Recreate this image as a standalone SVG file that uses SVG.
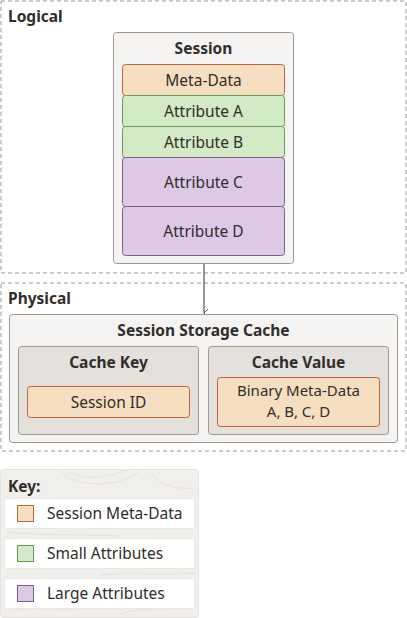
<svg xmlns="http://www.w3.org/2000/svg" width="407" height="618" viewBox="0 0 407 618">
<defs>
<style>
text{font-family:"Noto Sans","Open Sans",sans-serif;fill:#312d2a;font-size:15.5px;text-anchor:middle}
.b{font-weight:bold}
.l{text-anchor:start}
.zone{fill:none;stroke:#9e9892;stroke-dasharray:4 3;stroke-width:1}
.cont{fill:#f5f4f2;stroke:#9e9892;stroke-width:1}
.inner{fill:#e4e1dd;stroke:#9e9892;stroke-width:1}
.meta{fill:#f6dfc0;stroke:#c0623a;stroke-width:1}
.small{fill:#d2eac6;stroke:#6a9a5a;stroke-width:1}
.large{fill:#ddc9e6;stroke:#7a5f8a;stroke-width:1}
.keyrow{fill:#ffffff;stroke:#ebe8e5;stroke-width:1}
.tex{fill:none;stroke:#e6e2dd;stroke-width:1}
</style>
<marker id="arr" markerWidth="10" markerHeight="10" refX="5" refY="7" orient="auto" markerUnits="userSpaceOnUse">
<path d="M1,3 L5,7 L9,3" fill="none" stroke="#555" stroke-width="1"/>
</marker>
</defs>
<g id="logical">
<rect class="zone" x="1" y="1" width="405" height="272"/>
<text class="b l" x="8" y="22">Logical</text>
</g>
<g id="physical">
<rect class="zone" x="1" y="283" width="405" height="168"/>
<text class="b l" x="8" y="304">Physical</text>
</g>
<g id="session">
<rect class="cont" x="113.5" y="32.5" width="180" height="231" rx="3"/>
<text class="b" x="203.5" y="54">Session</text>
</g>
<g id="metadata"><rect class="meta" x="122.5" y="64.5" width="162" height="31" rx="3"/><text x="203.5" y="85.5">Meta-Data</text></g>
<g id="attrA"><rect class="small" x="122.5" y="95.5" width="162" height="31" rx="3"/><text x="203.5" y="116.5">Attribute A</text></g>
<g id="attrB"><rect class="small" x="122.5" y="126.5" width="162" height="31" rx="3"/><text x="203.5" y="147.5">Attribute B</text></g>
<g id="attrC"><rect class="large" x="122.5" y="157.5" width="162" height="49" rx="3"/><text x="203.5" y="187.5">Attribute C</text></g>
<g id="attrD"><rect class="large" x="122.5" y="206.5" width="162" height="49" rx="3"/><text x="203.5" y="236.5">Attribute D</text></g>
<g id="connectors">
<line x1="204" y1="264" x2="204" y2="313" stroke="#555" stroke-width="1.2" marker-end="url(#arr)"/>
</g>
<g id="storage">
<rect class="cont" x="9.5" y="314.5" width="388" height="128" rx="3"/>
<text class="b" x="203.5" y="336">Session Storage Cache</text>
</g>
<g id="cachekey">
<rect class="inner" x="18.5" y="346.5" width="180" height="88" rx="3"/>
<text class="b" x="108.5" y="368">Cache Key</text>
</g>
<g id="sessionid"><rect class="meta" x="27.5" y="386.5" width="162" height="31" rx="3"/><text x="108.5" y="407.5">Session ID</text></g>
<g id="cachevalue">
<rect class="inner" x="208.5" y="346.5" width="180" height="88" rx="3"/>
<text class="b" x="298.5" y="368">Cache Value</text>
</g>
<g id="binary"><rect class="meta" x="217.5" y="377.5" width="162" height="49" rx="3"/><text x="298.5" y="396" style="font-size:15px">Binary Meta-Data</text><text x="298.5" y="417" style="font-size:15px">A, B, C, D</text></g>
<g id="key">
<rect x="0.5" y="469.5" width="198" height="148" rx="3" fill="#f1efec" stroke="#e6e3df"/>
<path class="tex" d="M70,472 C80,480 110,478 125,470 M60,471 C75,488 120,488 140,471 M150,472 C160,485 175,490 196,488 M10,611 C40,604 60,614 90,606 M120,614 C140,606 170,612 196,604 M8,532 C40,536 80,534 120,536 M100,575 C130,572 160,576 196,573"/>
<text class="b l" x="8" y="492">Key:</text>
<rect class="keyrow" x="4.5" y="498.5" width="190" height="30"/>
<rect class="meta" x="17.5" y="505.5" width="16" height="16"/>
<text class="l" x="47" y="519">Session Meta-Data</text>
<rect class="keyrow" x="4.5" y="538.5" width="190" height="30"/>
<rect class="small" x="17.5" y="545.5" width="16" height="16"/>
<text class="l" x="47" y="559">Small Attributes</text>
<rect class="keyrow" x="4.5" y="578.5" width="190" height="30"/>
<rect class="large" x="17.5" y="585.5" width="16" height="16"/>
<text class="l" x="47" y="599">Large Attributes</text>
</g>
</svg>
